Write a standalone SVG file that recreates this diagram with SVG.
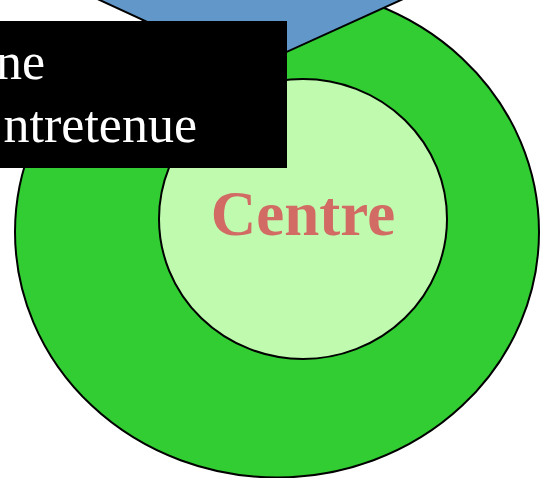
<svg xmlns="http://www.w3.org/2000/svg" width="540" height="478" viewBox="0 0 540 478">
<style>
.outline{stroke:#000;stroke-width:2}
.lbl{font-family:"Liberation Serif","Times New Roman",serif}
</style>
<rect width="540" height="478" fill="#fff"/>
<g id="outer-zone"><ellipse cx="277" cy="232" rx="262" ry="245.5" fill="#32cd32" class="outline"/></g>
<g id="top-shape"><polygon points="78,-10 423,-10 249,69" fill="#6197c9" class="outline"/></g>
<g id="centre">
<ellipse cx="303" cy="219" rx="144" ry="140" fill="#c0faae" class="outline"/>
<text class="lbl" x="303" y="235" font-size="63" font-weight="bold" fill="#d16b63" text-anchor="middle">Centre</text>
</g>
<g id="label-box">
<rect x="0" y="21" width="287" height="147" fill="#000"/>
<text class="lbl" x="45" y="79" font-size="52" fill="#fff" text-anchor="end">ne</text>
<text class="lbl" x="197" y="142" font-size="52" fill="#fff" text-anchor="end">ntretenue</text>
</g>
<g id="connectors"/>
</svg>
